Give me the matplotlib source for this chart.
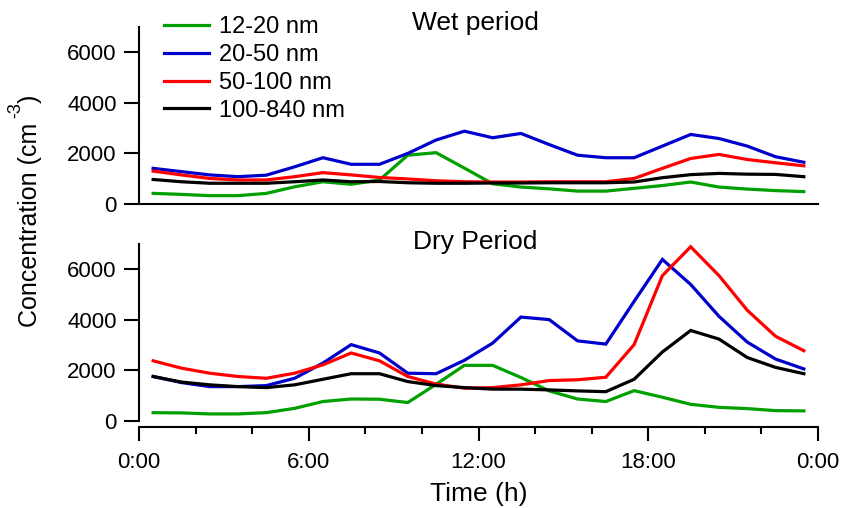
import matplotlib
matplotlib.use("Agg")
import matplotlib.pyplot as plt
from matplotlib.ticker import MultipleLocator, FixedLocator

plt.rcParams['font.family'] = ['Liberation Sans', 'DejaVu Sans']

hours = [0.5, 1.5, 2.5, 3.5, 4.5, 5.5, 6.5, 7.5, 8.5, 9.5, 10.5, 11.5,
         12.5, 13.5, 14.5, 15.5, 16.5, 17.5, 18.5, 19.5, 20.5, 21.5, 22.5, 23.5]

series_labels = ["12-20 nm", "20-50 nm", "50-100 nm", "100-840 nm"]
series_colors = ["#00A000", "#0000CC", "#FF0000", "#000000"]

wet_12_20 = [420, 380, 330, 330, 420, 680, 880, 780, 950, 1930, 2030, 1420,
             800, 670, 600, 510, 510, 620, 730, 870, 670, 590, 530, 490]
wet_20_50 = [1410, 1280, 1150, 1080, 1140, 1470, 1830, 1570, 1570, 2000, 2530, 2880,
             2620, 2790, 2350, 1930, 1830, 1830, 2290, 2750, 2590, 2290, 1870, 1650]
wet_50_100 = [1300, 1150, 1010, 950, 950, 1080, 1240, 1150, 1050, 990, 920, 880,
              870, 870, 880, 880, 880, 1010, 1410, 1800, 1960, 1760, 1630, 1510]
wet_100_840 = [970, 880, 820, 820, 820, 880, 950, 880, 890, 840, 820, 820,
               830, 830, 840, 840, 840, 870, 1040, 1160, 1210, 1180, 1170, 1080]

dry_12_20 = [330, 320, 280, 280, 330, 500, 770, 870, 860, 730, 1450, 2200,
             2200, 1720, 1190, 870, 770, 1200, 940, 660, 540, 490, 410, 400]
dry_20_50 = [1760, 1520, 1360, 1360, 1400, 1690, 2290, 3020, 2690, 1890, 1870, 2400,
             3080, 4110, 4010, 3170, 3040, 4730, 6390, 5400, 4140, 3120, 2450, 2060]
dry_50_100 = [2380, 2090, 1890, 1760, 1690, 1890, 2220, 2690, 2380, 1760, 1460, 1300,
              1320, 1430, 1600, 1630, 1730, 3020, 5750, 6890, 5750, 4380, 3350, 2780]
dry_100_840 = [1760, 1540, 1430, 1360, 1320, 1430, 1650, 1870, 1870, 1560, 1400, 1320,
               1260, 1260, 1230, 1190, 1160, 1650, 2730, 3580, 3240, 2510, 2120, 1870]

xtick_pos = [0, 6, 12, 18, 24]
xtick_labels = ["0:00", "6:00", "12:00", "18:00", "0:00"]
ytick_pos = [0, 2000, 4000, 6000]

W, H = 841, 508
fig = plt.figure(figsize=(W / 100, H / 100), dpi=100)

def px_axes(x0, x1, ytop, ybot):
    return fig.add_axes([x0 / W, 1 - ybot / H, (x1 - x0) / W, (ybot - ytop) / H])

ax_top = px_axes(139, 818, 27, 204)
ax_bot = px_axes(139, 818, 244, 421)

lw = 2.3
for ax, data in [(ax_top, [wet_12_20, wet_20_50, wet_50_100, wet_100_840]),
                 (ax_bot, [dry_12_20, dry_20_50, dry_50_100, dry_100_840])]:
    for vals, c, lab in zip(data, series_colors, series_labels):
        ax.plot(hours, vals, color=c, lw=lw, label=lab, solid_joinstyle='miter')
    ax.set_xlim(0, 24)
    ax.set_ylim(0, 7000)
    ax.yaxis.set_major_locator(FixedLocator(ytick_pos))
    ax.spines['top'].set_visible(False)
    ax.spines['right'].set_visible(False)
    ax.spines['left'].set_linewidth(1.5)
    ax.spines['bottom'].set_linewidth(1.5)
    ax.tick_params(axis='y', direction='out', length=11, width=1.5, labelsize=16, pad=5)

ax_top.tick_params(axis='x', bottom=False, labelbottom=False, which='both')

ax_bot.spines['bottom'].set_position(('outward', 4))
ax_bot.xaxis.set_major_locator(FixedLocator(xtick_pos))
ax_bot.set_xticklabels(xtick_labels)
ax_bot.xaxis.set_minor_locator(MultipleLocator(2))
ax_bot.tick_params(axis='x', which='major', direction='out', length=10, width=1.5,
                   labelsize=16, pad=8)
ax_bot.tick_params(axis='x', which='minor', direction='out', length=5, width=1.5)

ax_top.text(0.495, 1.025, "Wet period", transform=ax_top.transAxes,
            ha='center', va='center', fontsize=19)
ax_bot.text(0.495, 1.01, "Dry Period", transform=ax_bot.transAxes,
            ha='center', va='center', fontsize=19)

ax_bot.set_xlabel("Time (h)", fontsize=19, labelpad=7)

# y label: main text + raised superscript + closing parenthesis
ylab = fig.text(30 / W, 1 - 327 / H, "Concentration (cm", rotation=90,
                ha='center', va='bottom', fontsize=18)
fig.canvas.draw()
bb = ylab.get_window_extent(renderer=fig.canvas.get_renderer())
top_px = bb.y1  # display coords (from bottom)
fig.text(16 / W, (top_px + 13) / H, "-3", rotation=90, ha='center', va='center',
         fontsize=13)
fig.text(30 / W, (top_px + 20) / H, ")", rotation=90, ha='center', va='bottom',
         fontsize=18)

handles, labels = ax_top.get_legend_handles_labels()
fig.legend(handles, labels, loc='upper left',
           bbox_to_anchor=(164 / W, 1 - 16 / H), frameon=False,
           fontsize=17, handlelength=1.9, handletextpad=0.42,
           labelspacing=0.25, borderpad=0, borderaxespad=0)

fig.savefig("out.png", dpi=100)
